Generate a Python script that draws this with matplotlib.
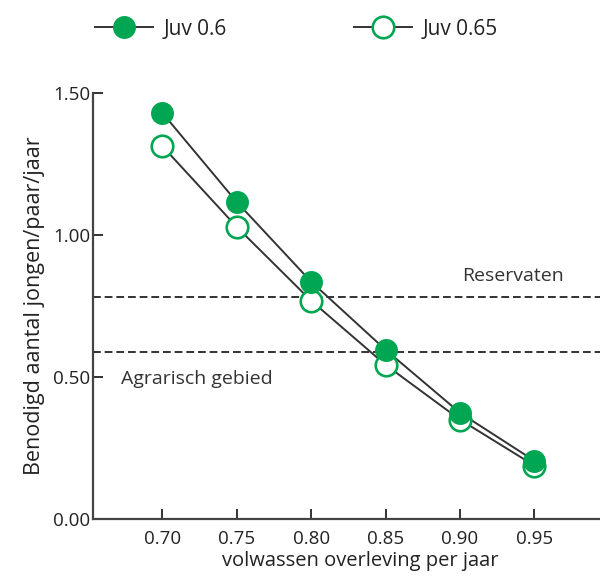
import matplotlib.pyplot as plt
from matplotlib.lines import Line2D

plt.rcParams['font.family'] = ['Open Sans', 'DejaVu Sans']

overleving = [0.70, 0.75, 0.80, 0.85, 0.90, 0.95]
juv_060 = [1.43, 1.116, 0.835, 0.595, 0.373, 0.204]
juv_065 = [1.313, 1.028, 0.768, 0.542, 0.349, 0.187]
reservaten = 0.782
agrarisch = 0.588
xticks = [0.70, 0.75, 0.80, 0.85, 0.90, 0.95]
yticks = [0.0, 0.5, 1.0, 1.5]

green = '#00a651'
dark = '#333333'

fig = plt.figure(figsize=(6, 5.77), dpi=100)
ax = fig.add_axes([0.155, 0.101, 0.845, 0.738])

ax.plot(overleving, juv_065, color=dark, lw=1.4, zorder=2)
ax.plot(overleving, juv_060, color=dark, lw=1.4, zorder=2)
ax.plot(overleving, juv_065, 'o', ms=15.5, mfc='white', mec=green, mew=1.9, zorder=3)
ax.plot(overleving, juv_060, 'o', ms=15.5, mfc=green, mec=green, zorder=4)

ax.axhline(reservaten, color=dark, lw=1.4, ls=(0, (4, 2)), zorder=1)
ax.axhline(agrarisch, color=dark, lw=1.4, ls=(0, (4, 2)), zorder=1)
ax.text(0.9015, reservaten + 0.04, 'Reservaten', fontsize=14, color=dark, ha='left', va='bottom')
ax.text(0.672, agrarisch - 0.063, 'Agrarisch gebied', fontsize=14, color=dark, ha='left', va='top')

ax.set_xlim(0.6535, 0.994)
ax.set_ylim(0, 1.5)
ax.set_xticks(xticks)
ax.set_xticklabels([f'{v:.2f}' for v in xticks])
ax.set_yticks(yticks)
ax.set_yticklabels([f'{v:.2f}' for v in yticks])
ax.tick_params(direction='in', length=7, width=1.4, color=dark, labelsize=13.5, labelcolor='#222222')
ax.tick_params(axis='y', pad=2)
ax.tick_params(axis='x', pad=8)
for s in ['top', 'right']:
    ax.spines[s].set_visible(False)
for s in ['left', 'bottom']:
    ax.spines[s].set_linewidth(1.6)
    ax.spines[s].set_color('#444444')

ax.set_xlabel('volwassen overleving per jaar', fontsize=14.5, color='#222222', labelpad=0)
ax.xaxis.set_label_coords(0.527, -0.075)
ax.set_ylabel('Benodigd aantal jongen/paar/jaar', fontsize=15.5, color='#222222', labelpad=6)

handles = [
    Line2D([], [], color=dark, lw=1.4, marker='o', ms=15.5, mfc=green, mec=green),
    Line2D([], [], color=dark, lw=1.4, marker='o', ms=15.5, mfc='white', mec=green, mew=1.9),
]
fig.legend(handles, ['Juv 0.6', 'Juv 0.65'], loc='upper left', bbox_to_anchor=(0.127, 1.0),
           ncol=2, frameon=False, fontsize=15, handlelength=2.8, columnspacing=6.1,
           handletextpad=0.5, labelcolor='#222222')

plt.savefig('out.png', dpi=100)
plt.close()
